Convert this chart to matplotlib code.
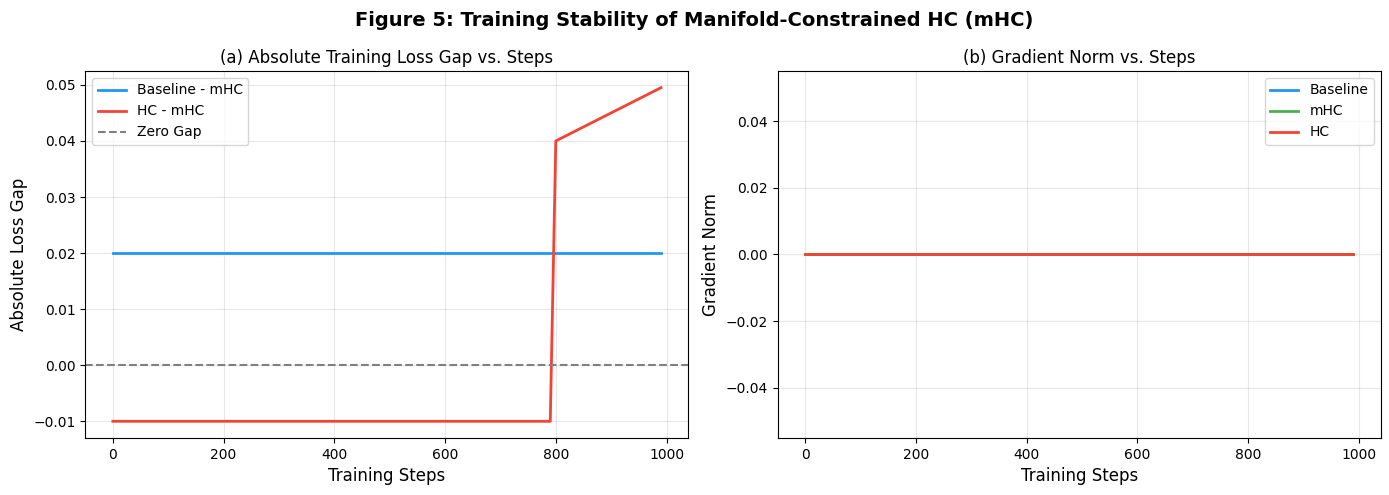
import numpy as np
import matplotlib.pyplot as plt

# line vertices
gap_steps = [0, 790, 800, 990]
baseline_gap = [0.02, 0.02, 0.02, 0.02]
hc_gap = [-0.01, -0.01, 0.04, 0.0495]

grad_steps = [0, 990]
grad_baseline = [0.0, 0.0]
grad_mhc = [0.0, 0.0]
grad_hc = [0.0, 0.0]

fig, (ax1, ax2) = plt.subplots(1, 2, figsize=(13.89, 4.95), dpi=100)
fig.suptitle('Figure 5: Training Stability of Manifold-Constrained HC (mHC)',
             fontsize=14, fontweight='bold', y=0.978)

ax1.plot(gap_steps, baseline_gap, color='#2196F3', linewidth=2, label='Baseline - mHC')
ax1.plot(gap_steps, hc_gap, color='#F44336', linewidth=2, label='HC - mHC')
ax1.axhline(0, color='gray', linestyle='--', linewidth=1.5, label='Zero Gap')
ax1.set_title('(a) Absolute Training Loss Gap vs. Steps', fontsize=12)
ax1.set_xlabel('Training Steps', fontsize=12)
ax1.set_ylabel('Absolute Loss Gap', fontsize=12)
ax1.legend(loc='upper left')
ax1.grid(True, alpha=0.3)

ax2.plot(grad_steps, grad_baseline, color='#2196F3', linewidth=2, label='Baseline')
ax2.plot(grad_steps, grad_mhc, color='#4CAF50', linewidth=2, label='mHC')
ax2.plot(grad_steps, grad_hc, color='#F44336', linewidth=2, label='HC')
ax2.set_title('(b) Gradient Norm vs. Steps', fontsize=12)
ax2.set_xlabel('Training Steps', fontsize=12)
ax2.set_ylabel('Gradient Norm', fontsize=12)
ax2.legend(loc='upper right')
ax2.grid(True, alpha=0.3)

plt.subplots_adjust(left=0.0615, right=0.994, top=0.8566, bottom=0.1152, wspace=0.148)
plt.savefig('out.png')
